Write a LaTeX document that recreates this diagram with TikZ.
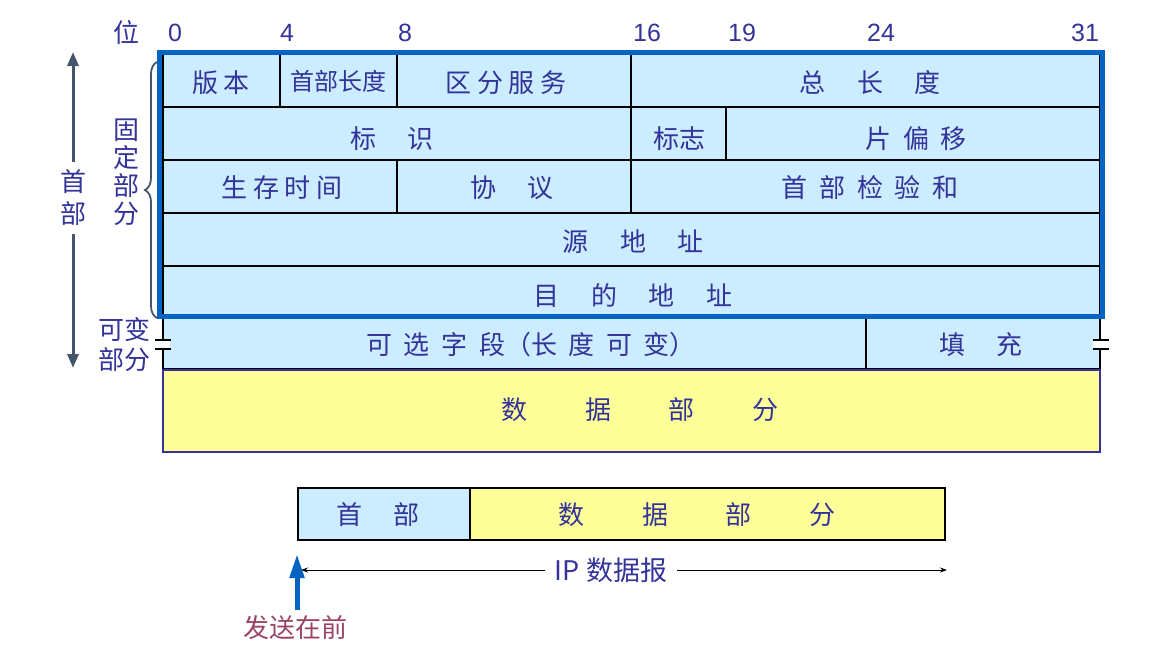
\documentclass[tikz,border=0pt]{standalone}
\usepackage{fontspec}
\setmainfont{Noto Sans CJK SC}
\usetikzlibrary{decorations.pathreplacing,arrows.meta}
\definecolor{tc}{HTML}{333399}
\definecolor{lb}{HTML}{CCECFF}
\definecolor{yl}{HTML}{FFFF99}
\definecolor{bb}{HTML}{0563C1}
\definecolor{gr}{HTML}{44546A}
\definecolor{mr}{HTML}{994466}
\begin{document}
\begin{tikzpicture}[x=1pt,y=-1pt,
  fld/.style={draw=black,line width=1.5pt,fill=lb},
  lbl/.style={text=tc,font=\fontsize{26}{28}\selectfont,inner sep=0pt},
  num/.style={text=tc,font=\fontsize{26}{28}\selectfont,inner sep=0pt}]
\useasboundingbox (0,0) rectangle (1152,654);
% rows
\foreach \a/\b/\t/\u in {163/280/54/107,280/397/54/107,397/631/54/107,631/1100/54/107,
 163/631/107/160,631/726/107/160,726/1100/107/160,
 163/397/160/213,397/631/160/213,631/1100/160/213,
 163/1100/213/266,163/1100/266/318,163/866/318/369,866/1100/318/369}
 \draw[fld] (\a,\t) rectangle (\b,\u);
\fill[white] (150,340) rectangle (170,350);
\fill[white] (1093,340) rectangle (1110,350);
\draw[line width=1.5pt] (155,340) -- (171,340) (155,349) -- (171,349);
\draw[line width=1.5pt] (1093,340) -- (1109,340) (1093,349) -- (1109,349);
\draw[bb,line width=5pt] (159,52) rectangle (1102,316);
\draw[draw=tc,line width=1.2pt,fill=yl] (163,370) rectangle (1100,452);
% field labels
\node[lbl] (f1) at (221,83) {版 本};
\node[lbl,font=\fontsize{24}{26}\selectfont] (f2) at (338,81) {首部长度};
\node[lbl] (f3) at (506,83) {区 分 服 务};
\node[lbl] (f4) at (870,83) {总 \quad 长 \quad 度};
\node[lbl] (f5) at (392,139) {标 \quad 识};
\node[lbl] (f6) at (679,139) {标志};
\node[lbl] (f7) at (916,139) {片 \ 偏 \ 移};
\node[lbl] (f8) at (282,188) {生 存 时 间};
\node[lbl] (f9) at (512,188) {协 \quad 议};
\node[lbl] (f10) at (870,188) {首 \ 部 \ 检 \ 验 \ 和};
\node[lbl] (f11) at (633,242) {源 \quad 地 \quad 址};
\node[lbl] (f12) at (633,295) {目 \quad 的 \quad 地 \quad 址};
\node[lbl] (f13) at (531,345) {可 \ 选 \ 字 \ 段（长 \ 度 \ 可 \ 变）};
\node[lbl] (f14) at (981,345) {填 \quad 充};
\node[lbl] (f15) at (640,410) {数 \qquad 据 \qquad 部 \qquad 分};
% bit numbers
\node[num] (b) at (126,32) {位};
\foreach \n/\x in {0/175,4/287,8/405,16/647,19/742,24/881,31/1085}
  \node[num,font=\fontsize{25}{27}\selectfont\fontspec{Liberation Sans}] (n\n) at (\x,33) {\n};
% left annotations
\node[lbl,align=center,font=\fontsize{26}{28}\selectfont] (gd) at (126,172) {固\\定\\部\\分};
\node[lbl,align=center,font=\fontsize{26}{30}\selectfont] (kb) at (124,345) {可变\\部分};
\node[lbl,align=center,font=\fontsize{26}{32}\selectfont] (sb) at (73,198) {首\\部};
\coordinate (ta) at (73,52); \coordinate (ba) at (73,368);
\draw[gr,line width=3pt,-{Triangle[length=14pt,width=11pt]}] (sb.north) ++(0,-8) -- (ta);
\draw[gr,line width=3pt,-{Triangle[length=14pt,width=11pt]}] (sb.south) ++(0,8) -- (ba);
\draw[gr,line width=1.8pt,decorate,decoration={brace,amplitude=12pt}] (157,318) -- (157,62);
% bottom
\draw[draw=black,line width=1.5pt,fill=lb] (298,488) rectangle (470,540);
\draw[draw=black,line width=1.5pt,fill=yl] (470,488) rectangle (945,540);
\node[lbl] (h) at (378,515) {首 \quad 部};
\node[lbl] (d) at (697,515) {数 \qquad 据 \qquad 部 \qquad 分};
\node[lbl,font=\fontsize{27}{29}\selectfont] (ip) at (611,570) {IP 数据报};
\coordinate (l) at (301,570); \coordinate (r) at (947,570);
\draw[line width=1pt,-{Stealth[length=7pt,width=5pt]}] (ip.west) ++(-10,0) -- (l);
\draw[line width=1pt,-{Stealth[length=7pt,width=5pt]}] (ip.east) ++(10,0) -- (r);
\node[lbl,text=mr] (fs) at (295,628) {发送在前};
\coordinate (at) at (297,554);
\draw[bb,line width=5pt,-{Triangle[length=24pt,width=14pt]}] (297,610) -- (at);
\end{tikzpicture}
\end{document}
